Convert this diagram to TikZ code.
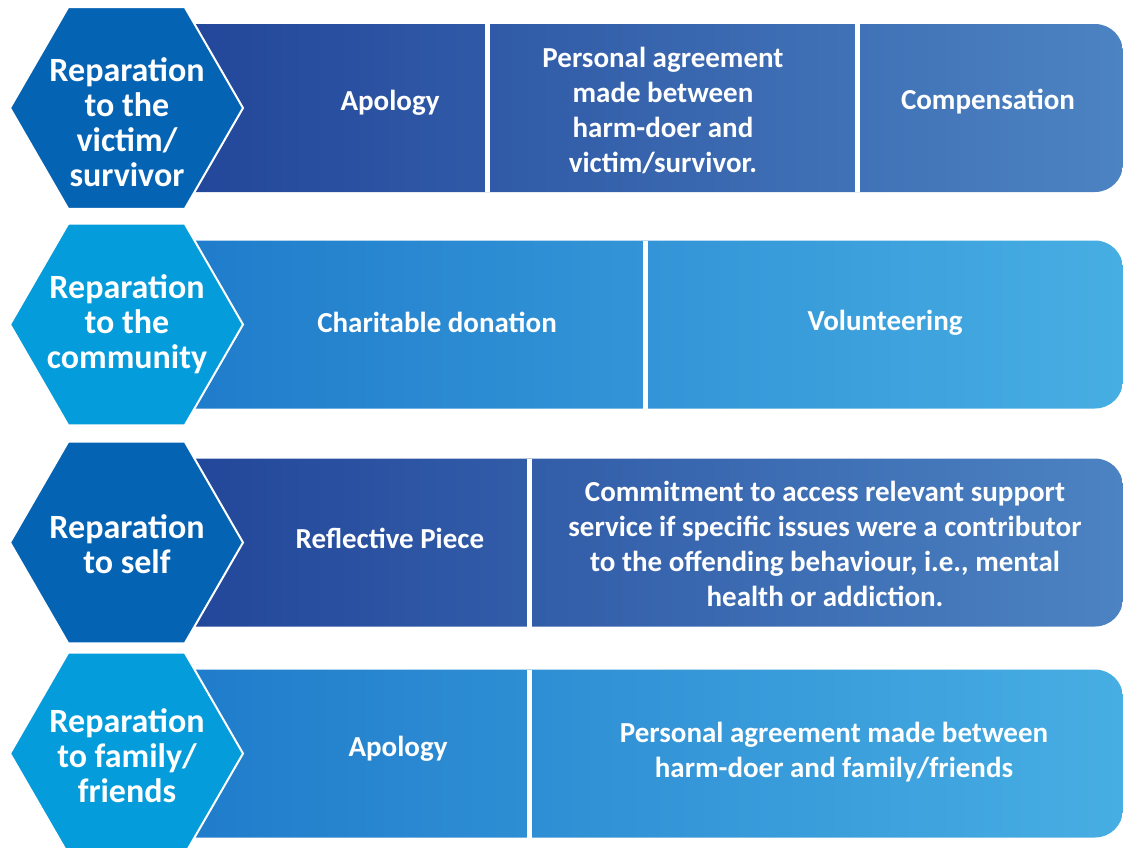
\documentclass[tikz,border=0pt]{standalone}
\usepackage{fontspec}
\setmainfont{Carlito}
\definecolor{bardarkL}{RGB}{33,68,152}
\definecolor{bardarkR}{RGB}{76,131,194}
\definecolor{barlightL}{RGB}{30,122,202}
\definecolor{barlightR}{RGB}{71,174,227}
\definecolor{hexdark}{RGB}{5,99,180}
\definecolor{hexlight}{RGB}{4,156,219}
\tikzset{
  hexcell/.style={draw=white, line width=2pt, line join=miter},
  hextext/.style={text=white, align=center, inner sep=0pt,
    font=\bfseries\fontsize{34}{35}\selectfont},
  bartext/.style={text=white, align=center, inner sep=0pt,
    font=\bfseries\fontsize{29}{35}\selectfont},
  gap/.style={draw=white, line width=5pt},
}
\begin{document}
\begin{tikzpicture}[x=1pt,y=-1pt]
  \useasboundingbox (0,0) rectangle (1123,847);
  % bars
  \foreach \yc/\lc/\rc in {108/bardarkL/bardarkR, 324.5/barlightL/barlightR,
      542.5/bardarkL/bardarkR, 753.5/barlightL/barlightR}{
    \shade[left color=\lc, right color=\rc, rounded corners=28pt]
      (150,\yc-84) rectangle (1123,\yc+84);
  }
  % white gaps between the cells
  \draw[gap] (487.5,24) -- (487.5,192);
  \draw[gap] (857.5,24) -- (857.5,192);
  \draw[gap] (645,240.5) -- (645,408.5);
  \draw[gap] (529.5,458.5) -- (529.5,626.5);
  \draw[gap] (529.5,669.5) -- (529.5,837.5);
  % hexagons
  \foreach \yc/\hc in {108/hexdark, 324.5/hexlight, 542.5/hexdark, 753.5/hexlight}{
    \begin{scope}[shift={(126.5,\yc)}]
      \draw[hexcell, fill=\hc] (0:116.5)
        \foreach \a in {60,120,...,300}{ -- (\a:116.5)} -- cycle;
    \end{scope}
  }
  % row labels
  \node[hextext] (victim) at (127,122) {Reparation\\to the\\victim/\\survivor};
  \node[hextext] (community) at (127,324) {Reparation\\to the\\community};
  \node[hextext] (self) at (127,544) {Reparation\\to self};
  \node[hextext] (family) at (127,756) {Reparation\\to family/\\friends};
  % cells
  \node[bartext] (v-apology) at (390,103) {Apology};
  \node[bartext] (v-agreement) at (663,110) {Personal agreement\\made between\\harm-doer and\\victim/survivor.};
  \node[bartext] (v-compensation) at (988,102) {Compensation};
  \node[bartext] (c-donation) at (437,322) {Charitable donation};
  \node[bartext] (c-volunteer) at (885,323) {Volunteering};
  \node[bartext] (s-reflect) at (390,538) {Reflective Piece};
  \node[bartext] (s-commit) at (825,544) {Commitment to access relevant support\\service if specific issues were a contributor\\to the offending behaviour, i.e., mental\\health or addiction.};
  \node[bartext] (f-apology) at (398,749) {Apology};
  \node[bartext] (f-agreement) at (834,752) {Personal agreement made between\\harm-doer and family/friends};
\end{tikzpicture}
\end{document}
